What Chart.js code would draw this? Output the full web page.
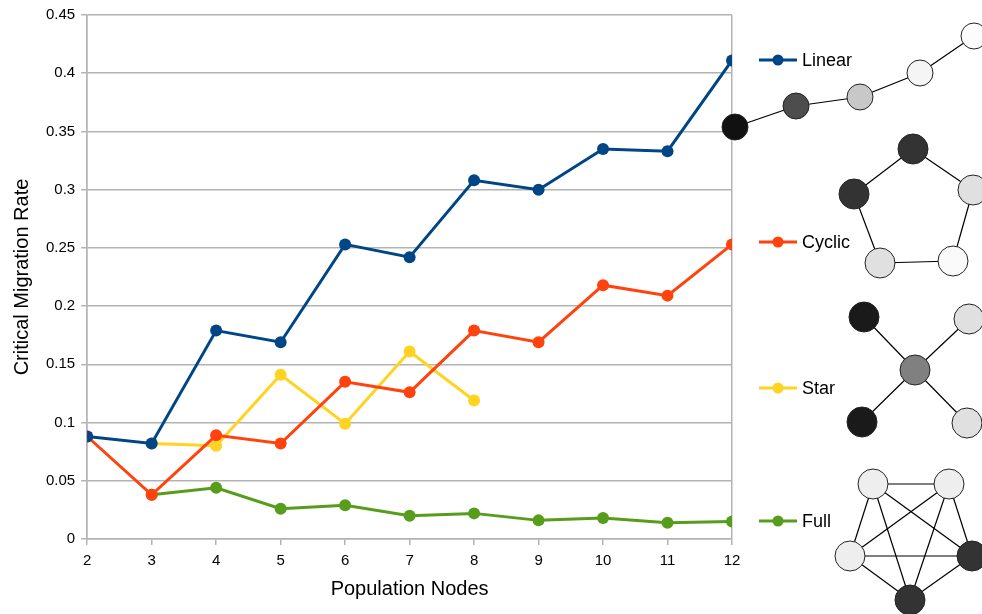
<!DOCTYPE html>
<html>
<head>
<meta charset="utf-8">
<script src="https://cdn.jsdelivr.net/npm/chart.js@4/dist/chart.umd.min.js"></script>
<style>
  html, body { margin: 0; padding: 0; background: #fff; }
  #wrap { width: 982px; height: 614px; position: relative; }
</style>
</head>
<body>
<div id="wrap"><canvas id="chart"></canvas></div>
<script>
// Population node counts on the x axis
const nodes = [2, 3, 4, 5, 6, 7, 8, 9, 10, 11, 12];

// Critical migration rate per topology (null = no value)
const linearRate = [0.088, 0.082, 0.179, 0.169, 0.253, 0.242, 0.308, 0.300, 0.335, 0.333, 0.411];
const cyclicRate = [0.088, 0.038, 0.089, 0.082, 0.135, 0.126, 0.179, 0.169, 0.218, 0.209, 0.253];
const starRate   = [null, 0.082, 0.080, 0.141, 0.099, 0.161, 0.119, null, null, null, null];
const fullRate   = [null, 0.038, 0.044, 0.026, 0.029, 0.020, 0.022, 0.016, 0.018, 0.014, 0.015];

const seriesNames = ['Linear', 'Cyclic', 'Star', 'Full'];
const seriesColors = ['#004586', '#ff420e', '#ffd320', '#579d1c'];

const yTicks = [0, 0.05, 0.1, 0.15, 0.2, 0.25, 0.3, 0.35, 0.4, 0.45];

const FONT = '"Liberation Sans", Arial, sans-serif';
const GRID = '#b3b3b3';

function toPoints(arr) {
    return nodes.map((n, i) => ({ x: n, y: arr[i] }));
}

const allRates = [linearRate, cyclicRate, starRate, fullRate];

const datasets = allRates.map((rates, i) => ({
    label: seriesNames[i],
    data: toPoints(rates),
    borderColor: seriesColors[i],
    backgroundColor: seriesColors[i],
    borderWidth: 3,
    pointRadius: 6,
    pointHoverRadius: 6,
    pointBorderWidth: 0,
    spanGaps: false,
    tension: 0
}));

// Little network pictures next to each legend entry
const legendY = [60, 242, 388, 521];
const graphs = [
    { // linear chain
        nodes: [[735, 127, '#111111'], [796, 106, '#4d4d4d'], [860, 97, '#c8c8c8'], [920, 73, '#f5f5f5'], [974, 36, '#fcfcfc']],
        r: 13,
        edges: [[0, 1], [1, 2], [2, 3], [3, 4]]
    },
    { // cycle
        nodes: [[913, 149, '#333333'], [854, 194, '#333333'], [973, 190, '#e0e0e0'], [880, 263, '#e0e0e0'], [953, 261, '#fafafa']],
        r: 15,
        edges: [[0, 1], [0, 2], [1, 3], [3, 4], [2, 4]]
    },
    { // star
        nodes: [[915, 370, '#808080'], [864, 317, '#1a1a1a'], [969, 319, '#e0e0e0'], [862, 422, '#1a1a1a'], [967, 423, '#e0e0e0']],
        r: 15,
        edges: [[0, 1], [0, 2], [0, 3], [0, 4]]
    },
    { // fully connected
        nodes: [[873, 484, '#eeeeee'], [949, 484, '#eeeeee'], [850, 556, '#eeeeee'], [972, 556, '#333333'], [910, 600, '#333333']],
        r: 15,
        edges: [[0, 1], [0, 2], [0, 3], [0, 4], [1, 2], [1, 3], [1, 4], [2, 3], [2, 4], [3, 4]]
    }
];

const sideLegend = {
    id: 'sideLegend',
    afterDraw(chart) {
        const ctx = chart.ctx;
        ctx.save();
        // network drawings
        graphs.forEach(g => {
            ctx.strokeStyle = '#000';
            ctx.lineWidth = 1.2;
            g.edges.forEach(([a, b]) => {
                ctx.beginPath();
                ctx.moveTo(g.nodes[a][0], g.nodes[a][1]);
                ctx.lineTo(g.nodes[b][0], g.nodes[b][1]);
                ctx.stroke();
            });
            g.nodes.forEach(([x, y, c]) => {
                ctx.beginPath();
                ctx.arc(x, y, g.r, 0, Math.PI * 2);
                ctx.fillStyle = c;
                ctx.fill();
                ctx.lineWidth = 1;
                ctx.strokeStyle = '#222';
                ctx.stroke();
            });
        });
        // legend entries
        const x0 = chart.chartArea.right + 27;
        seriesNames.forEach((name, i) => {
            const y = legendY[i];
            ctx.strokeStyle = seriesColors[i];
            ctx.lineWidth = 3;
            ctx.beginPath();
            ctx.moveTo(x0, y);
            ctx.lineTo(x0 + 38, y);
            ctx.stroke();
            ctx.fillStyle = seriesColors[i];
            ctx.beginPath();
            ctx.arc(x0 + 19, y, 5.5, 0, Math.PI * 2);
            ctx.fill();
            ctx.fillStyle = '#000';
            ctx.font = '18px ' + FONT;
            ctx.textBaseline = 'middle';
            ctx.textAlign = 'left';
            ctx.fillText(name, x0 + 43, y + 1);
        });
        ctx.restore();
    }
};

new Chart(document.getElementById('chart'), {
    type: 'line',
    data: { datasets },
    plugins: [sideLegend],
    options: {
        responsive: true,
        maintainAspectRatio: false,
        animation: false,
        layout: { padding: { left: 10, right: 250, top: 13, bottom: 13 } },
        plugins: {
            legend: { display: false },
            tooltip: { enabled: false }
        },
        scales: {
            x: {
                type: 'linear',
                min: 2,
                max: 12,
                ticks: {
                    stepSize: 1,
                    color: '#000',
                    font: { family: FONT, size: 15 },
                    padding: 7
                },
                grid: {
                    color: c => (c.tick && (c.tick.value === 2 || c.tick.value === 12)) ? GRID : 'rgba(0,0,0,0)',
                    tickColor: GRID,
                    tickLength: 6,
                    lineWidth: 1.5
                },
                border: { color: GRID, width: 1.5 },
                title: {
                    display: true,
                    text: 'Population Nodes',
                    color: '#000',
                    font: { family: FONT, size: 20 },
                    padding: { top: 0, bottom: 0 }
                }
            },
            y: {
                min: 0,
                max: 0.45,
                afterBuildTicks: axis => { axis.ticks = yTicks.map(v => ({ value: v })); },
                ticks: {
                    color: '#000',
                    font: { family: FONT, size: 15 },
                    padding: 6,
                    callback: v => String(parseFloat(v.toFixed(2)))
                },
                grid: {
                    color: GRID,
                    tickColor: GRID,
                    tickLength: 6,
                    lineWidth: 1.5
                },
                border: { color: GRID, width: 1.5 },
                title: {
                    display: true,
                    text: 'Critical Migration Rate',
                    color: '#000',
                    font: { family: FONT, size: 20 },
                    padding: { top: 0, bottom: 6 }
                }
            }
        }
    }
});
</script>
</body>
</html>
